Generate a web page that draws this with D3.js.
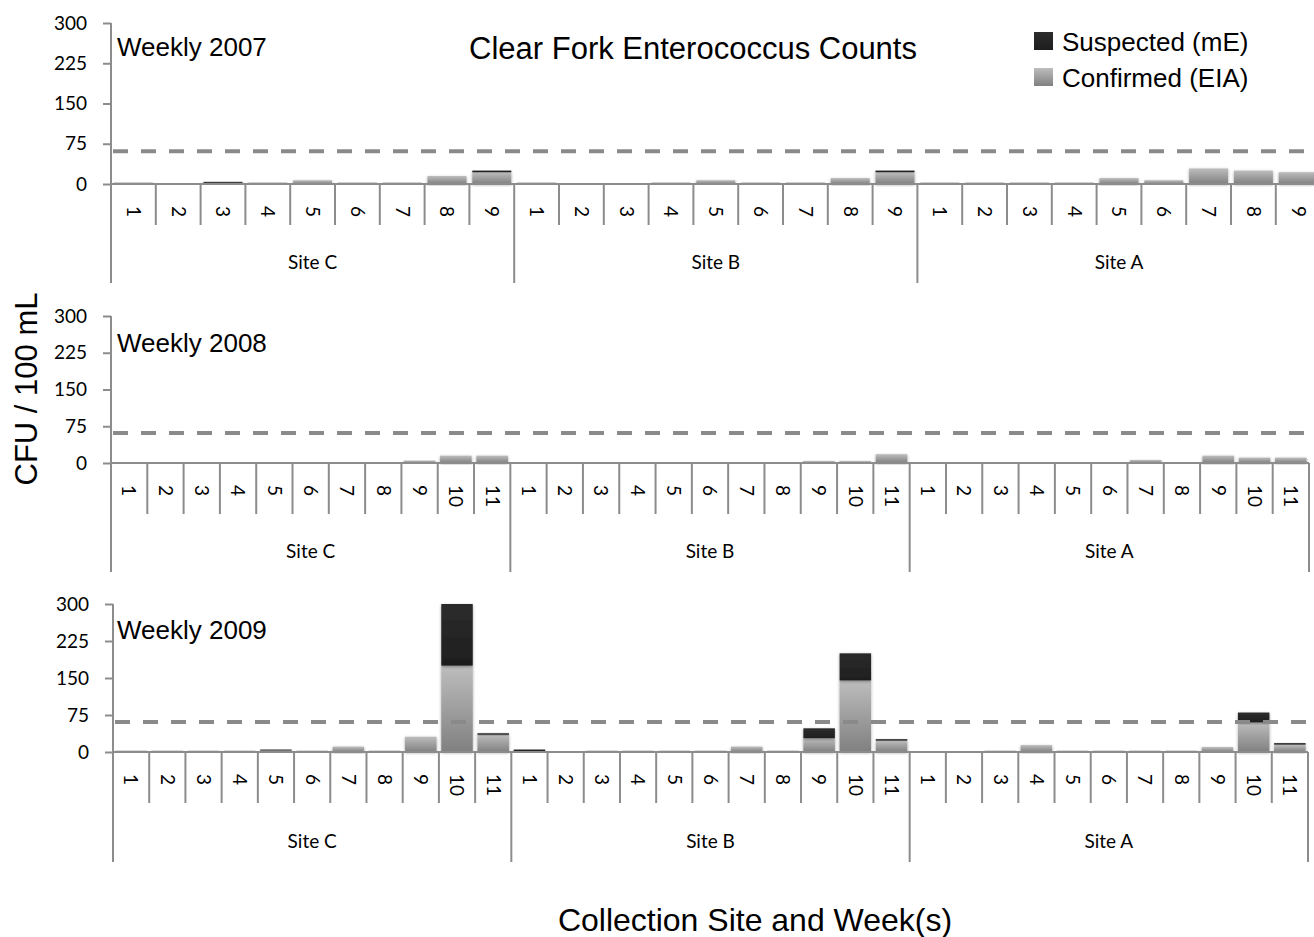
<!DOCTYPE html>
<html>
<head>
<meta charset="utf-8">
<script src="https://cdn.jsdelivr.net/npm/d3@7"></script>
<style>
  body { margin: 0; background: #fff; }
  svg { display: block; }
</style>
</head>
<body>
<svg id="chart" width="1314" height="937"></svg>
<script>
// 数据
var sites = ["Site C", "Site B", "Site A"];
var weeks2007 = ["1", "2", "3", "4", "5", "6", "7", "8", "9"];
var weeks2008 = ["1", "2", "3", "4", "5", "6", "7", "8", "9", "10", "11"];
var weeks2009 = ["1", "2", "3", "4", "5", "6", "7", "8", "9", "10", "11"];
var yTicks = [0, 75, 150, 225, 300];
var threshold = 61;

// site C, site B, site A in order
var confirmed2007 = [3, 0, 3, 3, 7, 3, 3, 15, 22,  3, 0, 0, 3, 7, 3, 3, 11, 22,  3, 3, 3, 3, 11, 7, 29, 25, 22];
var suspected2007 = [0, 0, 1, 0, 0, 0, 0, 0, 3,    0, 0, 0, 0, 0, 0, 0, 0, 3,    0, 0, 0, 0, 0, 0, 0, 0, 0];

var confirmed2008 = [0, 1, 0, 1, 0, 1, 0, 1, 5, 15, 15,  0, 0, 1, 1, 0, 0, 0, 0, 4, 4, 18,  0, 0, 0, 1, 1, 0, 6, 0, 15, 11, 11];
var suspected2008 = [0, 0, 0, 0, 0, 0, 0, 0, 0, 0, 0,    0, 0, 0, 0, 0, 0, 0, 0, 0, 0, 0,   0, 0, 0, 0, 0, 0, 0, 0, 0, 0, 0];

var confirmed2009 = [3, 3, 3, 3, 3, 3, 11, 3, 31, 175, 35,  2, 0, 3, 3, 3, 3, 11, 3, 28, 145, 23,  0, 0, 3, 14, 3, 3, 3, 3, 10, 60, 15];
var suspected2009 = [0, 0, 0, 0, 2, 0, 0, 0, 0, 125, 3,     3, 0, 0, 0, 0, 0, 0, 0, 20, 55, 3,     0, 0, 0, 0, 0, 0, 0, 0, 0, 20, 3];

var axisColor = "#8c8c8c";
var numFont = "Lato, Carlito, Calibri, sans-serif";
var textFont = "'Liberation Sans', Arial, Helvetica, sans-serif";

var svg = d3.select("#chart");
var defs = svg.append("defs");

// 渐变
var gConf = defs.append("linearGradient").attr("id", "gradConfirmed")
  .attr("x1", 0).attr("y1", 0).attr("x2", 0).attr("y2", 1);
gConf.append("stop").attr("offset", "0%").attr("stop-color", "#bdbdbd");
gConf.append("stop").attr("offset", "100%").attr("stop-color", "#808080");

var gSusp = defs.append("linearGradient").attr("id", "gradSuspected")
  .attr("x1", 0).attr("y1", 0).attr("x2", 0).attr("y2", 1);
gSusp.append("stop").attr("offset", "0%").attr("stop-color", "#2c2c2c");
gSusp.append("stop").attr("offset", "100%").attr("stop-color", "#1e1e1e");

defs.append("filter").attr("id", "soft")
  .attr("x", "-20%").attr("y", "-20%").attr("width", "140%").attr("height", "140%")
  .append("feDropShadow")
  .attr("dx", 0).attr("dy", 1).attr("stdDeviation", 1.5)
  .attr("flood-color", "#000").attr("flood-opacity", 0.35);

var fills = { confirmed: "url(#gradConfirmed)", suspected: "url(#gradSuspected)" };

var panels = [
  { label: "Weekly 2007", weeks: weeks2007, confirmed: confirmed2007, suspected: suspected2007,
    x0: 111, x1: 1320.6, yTop: 23, yBase: 184, tickEnd: 225, sepEnd: 283, siteY: 269, labelY: 56 },
  { label: "Weekly 2008", weeks: weeks2008, confirmed: confirmed2008, suspected: suspected2008,
    x0: 111, x1: 1309, yTop: 316, yBase: 463, tickEnd: 514, sepEnd: 572, siteY: 558, labelY: 352 },
  { label: "Weekly 2009", weeks: weeks2009, confirmed: confirmed2009, suspected: suspected2009,
    x0: 113, x1: 1308, yTop: 604, yBase: 752, tickEnd: 803, sepEnd: 862, siteY: 848, labelY: 639 }
];

panels.forEach(drawPanel);

function drawPanel(p) {
  var nw = p.weeks.length;
  var rows = [];
  sites.forEach(function (s, si) {
    p.weeks.forEach(function (w, wi) {
      var k = si * nw + wi;
      rows.push({ key: s + "|" + w, site: s, week: w,
        confirmed: p.confirmed[k], suspected: p.suspected[k] });
    });
  });

  var x = d3.scaleBand()
    .domain(rows.map(function (d) { return d.key; }))
    .range([p.x0, p.x1])
    .paddingInner(0.13)
    .paddingOuter(0.065);
  var step = x.step();

  var y = d3.scaleLinear().domain([0, 300]).range([p.yBase, p.yTop]);

  var g = svg.append("g");

  // 柱子
  var series = d3.stack().keys(["confirmed", "suspected"])(rows);
  g.append("g").selectAll("g")
    .data(series)
    .enter()
    .append("g")
    .attr("fill", function (d) { return fills[d.key]; })
    .selectAll("rect")
    .data(function (d) { return d; })
    .enter()
    .append("rect")
    .filter(function (d) { return d[1] - d[0] > 0; })
    .attr("x", function (d) { return x(d.data.key); })
    .attr("width", x.bandwidth())
    .attr("y", function (d) { return y(d[1]); })
    .attr("height", function (d) { return Math.max(1, y(d[0]) - y(d[1])); })
    .attr("filter", "url(#soft)");

  // 基线
  g.append("line")
    .attr("x1", p.x0).attr("x2", p.x1)
    .attr("y1", p.yBase).attr("y2", p.yBase)
    .attr("stroke", axisColor).attr("stroke-width", 2);

  // 类别刻度线
  g.append("g").selectAll("line")
    .data(d3.range(1, rows.length + 1).filter(function (i) { return i % nw !== 0; }))
    .enter()
    .append("line")
    .attr("x1", function (i) { return p.x0 + i * step; })
    .attr("x2", function (i) { return p.x0 + i * step; })
    .attr("y1", p.yBase).attr("y2", p.tickEnd)
    .attr("stroke", axisColor).attr("stroke-width", 2);

  // site separators
  g.append("g").selectAll("line")
    .data(d3.range(0, sites.length + 1))
    .enter()
    .append("line")
    .attr("x1", function (i) { return p.x0 + i * nw * step; })
    .attr("x2", function (i) { return p.x0 + i * nw * step; })
    .attr("y1", function (i) { return i === 0 ? p.yTop : p.yBase; })
    .attr("y2", p.sepEnd)
    .attr("stroke", axisColor).attr("stroke-width", 2);

  // y 轴
  var yAxis = g.append("g")
    .attr("transform", "translate(" + p.x0 + ",0)")
    .call(d3.axisLeft(y).tickValues(yTicks).tickSize(8).tickSizeOuter(0).tickPadding(16));
  yAxis.select(".domain").remove();
  yAxis.selectAll(".tick line").attr("stroke", axisColor).attr("stroke-width", 2);
  yAxis.selectAll(".tick text")
    .attr("fill", "#000")
    .style("font-family", numFont)
    .style("font-size", "19px");

  // week labels (rotated)
  g.append("g").selectAll("text")
    .data(rows)
    .enter()
    .append("text")
    .attr("transform", function (d) {
      return "translate(" + (x(d.key) + x.bandwidth() / 2) + "," + (p.yBase + 22) + ") rotate(90)";
    })
    .attr("dy", "0.35em")
    .style("font-family", numFont)
    .style("font-size", "19px")
    .text(function (d) { return d.week; });

  // site labels
  g.append("g").selectAll("text")
    .data(sites)
    .enter()
    .append("text")
    .attr("x", function (s, i) { return p.x0 + (i + 0.5) * nw * step; })
    .attr("y", p.siteY)
    .attr("text-anchor", "middle")
    .style("font-family", numFont)
    .style("font-size", "19px")
    .text(function (s) { return s; });

  // threshold line
  g.append("line")
    .attr("x1", p.x0 + 2).attr("x2", p.x1)
    .attr("y1", y(threshold)).attr("y2", y(threshold))
    .attr("stroke", "#8a8a8a")
    .attr("stroke-width", 4)
    .attr("stroke-dasharray", "15,13");

  g.append("text")
    .attr("x", 117)
    .attr("y", p.labelY)
    .style("font-family", textFont)
    .style("font-size", "26px")
    .text(p.label);
}

// 标题
svg.append("text")
  .attr("x", 693)
  .attr("y", 59)
  .attr("text-anchor", "middle")
  .style("font-family", textFont)
  .style("font-size", "31px")
  .text("Clear Fork Enterococcus Counts");

// 图例
var legendItems = [
  { key: "suspected", label: "Suspected (mE)" },
  { key: "confirmed", label: "Confirmed (EIA)" }
];
var legend = svg.append("g").attr("transform", "translate(1034,32)");
var li = legend.selectAll("g")
  .data(legendItems)
  .enter()
  .append("g")
  .attr("transform", function (d, i) { return "translate(0," + (i * 36) + ")"; });
li.append("rect")
  .attr("width", 19).attr("height", 18)
  .attr("fill", function (d) { return fills[d.key]; });
li.append("text")
  .attr("x", 28)
  .attr("y", 19)
  .style("font-family", textFont)
  .style("font-size", "26px")
  .text(function (d) { return d.label; });

// 轴标题
svg.append("text")
  .attr("transform", "translate(37,389) rotate(-90)")
  .attr("text-anchor", "middle")
  .style("font-family", textFont)
  .style("font-size", "31px")
  .text("CFU / 100 mL");

svg.append("text")
  .attr("x", 755)
  .attr("y", 931)
  .attr("text-anchor", "middle")
  .style("font-family", textFont)
  .style("font-size", "32px")
  .text("Collection Site and Week(s)");
</script>
</body>
</html>
